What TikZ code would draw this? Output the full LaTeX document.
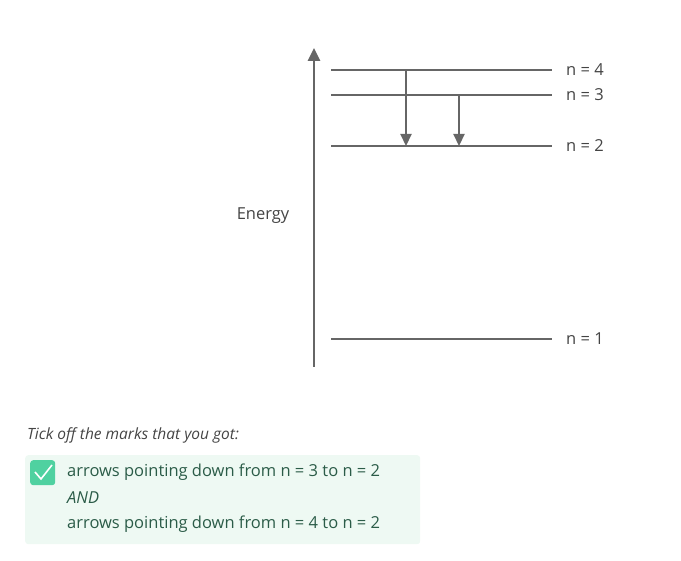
\documentclass[tikz,border=0pt]{standalone}
\usepackage{fontspec}
\setmainfont{Open Sans}
\usetikzlibrary{arrows.meta}
\definecolor{ax}{HTML}{666666}
\definecolor{txt}{HTML}{444444}
\definecolor{boxbg}{HTML}{EEF9F3}
\definecolor{chk}{HTML}{4FD1A0}
\definecolor{dg}{HTML}{2B5C48}
\tikzset{level/.style={draw=ax,line width=1.8pt},
 lab/.style={font=\fontsize{16.5}{19}\selectfont,text=txt,anchor=west,inner sep=0},
 darr/.style={draw=ax,line width=2.2pt,-{Triangle[length=12pt,width=11pt]}},
 mk/.style={font=\fontsize{16.5}{19}\selectfont,text=dg,anchor=west,inner sep=0}}
\begin{document}
\begin{tikzpicture}[x=1pt,y=-1pt]
\useasboundingbox (0,0) rectangle (681,561);
\coordinate (ab) at (314,367); \coordinate (at) at (314,48);
\draw[darr,-{Triangle[length=13pt,width=12pt]},line width=2.6pt] (ab) -- (at);
\foreach \n/\y in {4/70,3/95,2/146,1/339}{
 \coordinate (l\n) at (331,\y); \coordinate (r\n) at (552,\y);
 \draw[level] (l\n) -- (r\n);
 \node[lab] (t\n) at (566,\y) {n = \n};}
\coordinate (a4) at (406,70); \coordinate (a4e) at (406,146);
\coordinate (a3) at (459,95); \coordinate (a3e) at (459,146);
\draw[darr] (a4) -- (a4e);
\draw[darr] (a3) -- (a3e);
\node[lab,anchor=center] (en) at (263,216) {Energy};
\node[lab,font=\fontsize{15.5}{18}\selectfont\itshape] (tick) at (27,435) {Tick off the marks that you got:};
\node[fill=boxbg,rounded corners=3pt,minimum width=395pt,minimum height=89pt,anchor=north west,inner sep=0] (box) at (25,455) {};
\node[fill=chk,rounded corners=3pt,minimum width=25pt,minimum height=25pt,anchor=north west,inner sep=0] (cb) at (30,460) {};
\draw[white,line width=1.6pt] (35,472) -- (41,479) -- (52,465);
\node[mk] (m1) at (67,472) {arrows pointing down from n = 3 to n = 2};
\node[mk,font=\fontsize{16.5}{19}\selectfont\itshape] (m2) at (67,498) {AND};
\node[mk] (m3) at (67,524) {arrows pointing down from n = 4 to n = 2};
\end{tikzpicture}
\end{document}
